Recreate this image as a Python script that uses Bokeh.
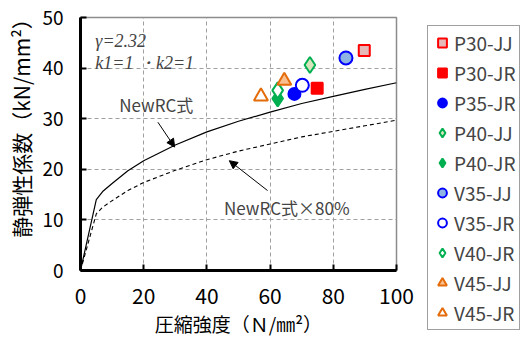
import math
from bokeh.plotting import figure
from bokeh.models import Range1d, Arrow, NormalHead, Label, FixedTicker
from bokeh.embed import file_html
from bokeh.resources import INLINE

# ---- data ----
fc = [0, 5, 7, 10, 15, 20, 30, 40, 50, 60, 70, 80, 90, 100]
newrc = [0, 14.0, 15.6, 17.2, 19.7, 21.7, 24.8, 27.4, 29.5, 31.3, 33.0, 34.4, 35.8, 37.1]
newrc80 = [0, 11.2, 12.5, 13.8, 15.8, 17.4, 19.8, 21.9, 23.6, 25.0, 26.4, 27.5, 28.6, 29.7]

series_names = ["P30-JJ", "P30-JR", "P35-JR", "P40-JJ", "P40-JR",
                "V35-JJ", "V35-JR", "V40-JR", "V45-JJ", "V45-JR"]
series_x = [89.8, 74.9, 67.7, 72.6, 62.4, 84.0, 70.2, 62.4, 64.5, 57.1]
series_y = [43.5, 36.0, 34.9, 40.6, 34.0, 42.0, 36.6, 35.6, 37.5, 34.4]

x_ticks = [0, 20, 40, 60, 80, 100]
y_ticks = [0, 10, 20, 30, 40, 50]

# ---- styles ----
styles = {
    "P30-JJ": dict(marker="square", size=11, fill_color="#E6B8B7", line_color="#FF0000"),
    "P30-JR": dict(marker="square", size=11, fill_color="#FF0000", line_color="#FF0000"),
    "P35-JR": dict(marker="circle", size=12, fill_color="#0000FF", line_color="#0000FF"),
    "P40-JJ": dict(marker="diamond", size=16, fill_color="#D8E4BC", line_color="#00B050"),
    "P40-JR": dict(marker="diamond", size=16, fill_color="#00B050", line_color="#00B050"),
    "V35-JJ": dict(marker="circle", size=13, fill_color="#8DB4E2", line_color="#0000FF"),
    "V35-JR": dict(marker="circle", size=13, fill_color="#FFFFFF", line_color="#0000FF"),
    "V40-JR": dict(marker="diamond", size=16, fill_color="#FFFFFF", line_color="#00B050"),
    "V45-JJ": dict(marker="triangle", size=14, fill_color="#FABF8F", line_color="#E46C0A"),
    "V45-JR": dict(marker="triangle", size=14, fill_color="#FFFFFF", line_color="#E46C0A"),
}

JP = "Noto Sans CJK JP"

p = figure(frame_width=316, frame_height=253, output_backend="svg", toolbar_location=None,
           x_range=Range1d(0, 100), y_range=Range1d(0, 50),
           min_border_left=80, min_border_top=17, min_border_bottom=10, min_border_right=0)
p.outline_line_color = "#8c8c8c"
p.outline_line_width = 1.5

for ax in (p.xaxis[0], p.yaxis[0]):
    ax.axis_line_width = 3
    ax.axis_line_color = "black"
    ax.major_tick_in = 6
    ax.major_tick_out = 0
    ax.major_tick_line_width = 2
    ax.minor_tick_line_color = None
    ax.major_label_text_font = JP
    ax.major_label_text_color = "black"
    ax.axis_label_text_font = JP
    ax.axis_label_text_font_style = "normal"
    ax.axis_label_text_color = "black"

p.xaxis.major_label_text_font_size = "21px"
p.yaxis.major_label_text_font_size = "19px"
p.xaxis.axis_label_text_font_size = "19px"
p.yaxis.axis_label_text_font_size = "21px"
p.xaxis.ticker = FixedTicker(ticks=x_ticks)
p.yaxis.ticker = FixedTicker(ticks=y_ticks)
p.xgrid.ticker = FixedTicker(ticks=x_ticks)
p.ygrid.ticker = FixedTicker(ticks=y_ticks)
p.xaxis.major_label_standoff = 17
p.yaxis.major_label_standoff = 17
p.xaxis.axis_label = "圧縮強度（Ｎ/㎜²）"
p.yaxis.axis_label = "\u3000\u3000静弾性係数（kN/mm²）"
p.xaxis.axis_label_standoff = 3
p.yaxis.axis_label_standoff = 3

p.xgrid.grid_line_color = "#a0a0a0"
p.ygrid.grid_line_color = "#a0a0a0"
p.xgrid.grid_line_width = 1
p.ygrid.grid_line_width = 1
p.xgrid.grid_line_dash = "4 3"
p.ygrid.grid_line_dash = "4 3"

p.line(fc, newrc, line_color="black", line_width=1.2)
p.line(fc, newrc80, line_color="black", line_width=1.1, line_dash="4 3")

for name, x, y in zip(series_names, series_x, series_y):
    st = styles[name]
    p.scatter([x], [y], marker=st["marker"], size=st["size"],
              fill_color=st["fill_color"], line_color=st["line_color"], line_width=2,
              legend_label=name)

# annotations
p.add_layout(Label(x=4.7, y=45.4, text="γ=2.32", text_font="Liberation Serif",
                   text_font_style="italic", text_font_size="18px", text_baseline="middle"))
p.add_layout(Label(x=4.7, y=41.0, text="k1=1 ・k2=1", text_font="Liberation Serif",
                   text_font_style="italic", text_font_size="18px", text_baseline="middle"))
p.add_layout(Label(x=24.0, y=32.8, text="NewRC式", text_font=JP, text_font_size="17px",
                   text_align="center", text_baseline="middle"))
p.add_layout(Label(x=65.3, y=12.5, text="NewRC式×80%", text_font=JP, text_font_size="17px",
                   text_align="center", text_baseline="middle"))
p.add_layout(Arrow(x_start=24.5, y_start=29.3, x_end=29.8, y_end=24.4, line_width=1,
                   end=NormalHead(size=8, fill_color="black", line_color="black")))
p.add_layout(Arrow(x_start=59.2, y_start=15.8, x_end=47.1, y_end=21.7, line_width=1,
                   end=NormalHead(size=8, fill_color="black", line_color="black")))

leg = p.legend[0]
leg.label_text_font = JP
leg.label_text_font_size = "19px"
leg.border_line_color = "#404040"
leg.border_line_width = 1.2
leg.spacing = 3
leg.glyph_width = 22
leg.glyph_height = 27
leg.label_height = 27
leg.label_standoff = 1
leg.padding = 3
leg.margin = 0
p.add_layout(leg, "right")
leg.location = (31, -60)

open("out.html", "w").write(file_html(p, INLINE))
